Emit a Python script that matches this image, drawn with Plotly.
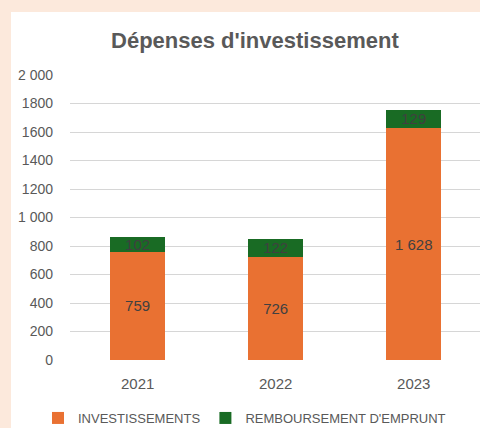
import plotly.graph_objects as go

years = ["2021", "2022", "2023"]
investissements = [759, 726, 1628]
remboursement = [102, 122, 129]
y_tickvals = [0, 200, 400, 600, 800, 1000, 1200, 1400, 1600, 1800, 2000]
y_ticktext = ["0", "200", "400", "600", "800", "1 000", "1200", "1400", "1600", "1800", "2 000"]

ORANGE = "#E97132"
GREEN = "#196B24"
GRAY = "#595959"
FONT = "Liberation Sans, Arial, sans-serif"


def fmt(v):
    return f"{v:,}".replace(",", " ")


fig = go.Figure()
for vals, name, color in [(investissements, "INVESTISSEMENTS", ORANGE),
                          (remboursement, "REMBOURSEMENT D'EMPRUNT", GREEN)]:
    fig.add_trace(go.Bar(
        x=years, y=vals, name=name,
        marker=dict(color=color, line=dict(width=0)),
        text=[fmt(v) for v in vals], textposition="inside",
        insidetextanchor="middle", constraintext="none",
        textfont=dict(color="#404040", size=15, family=FONT),
        hoverinfo="skip",
    ))

fig.update_layout(
    width=480, height=428,
    barmode="stack", bargap=0.6,
    paper_bgcolor="#FCE9DC", plot_bgcolor="rgba(0,0,0,0)",
    margin=dict(l=70, r=0, t=75, b=68, autoexpand=False),
    uniformtext=dict(mode="show", minsize=15),
    title=dict(text="<b>Dépenses d'investissement</b>", x=0.531, xanchor="center",
               y=1 - 40 / 428, yanchor="middle",
               font=dict(size=22, color=GRAY, family=FONT)),
    font=dict(family=FONT, color=GRAY),
    xaxis=dict(range=[-0.49, 2.48], showgrid=False, zeroline=False, showline=False,
               ticks="", tickfont=dict(size=15, color=GRAY), ticklabelstandoff=13,
               fixedrange=True),
    yaxis=dict(range=[0, 2000], tickvals=y_tickvals, ticktext=y_ticktext,
               showgrid=True, gridcolor="#D6D6D6", gridwidth=1.4,
               zeroline=False, showline=False, ticks="",
               tickfont=dict(size=14, color=GRAY), ticklabelstandoff=16,
               fixedrange=True),
    legend=dict(orientation="h", x=(38 - 70) / 410, xanchor="left",
                y=(360 - 418) / 285, yanchor="middle",
                font=dict(size=13, color=GRAY, family=FONT),
                bgcolor="rgba(0,0,0,0)", traceorder="normal"),
    shapes=[dict(type="rect", xref="paper", yref="paper",
                 x0=(11 - 70) / 410, x1=1.01, y0=(360 - 440) / 285, y1=(360 - 12) / 285,
                 fillcolor="white", line=dict(width=0), layer="below")],
)

fig.write_html("out.html", config={"displayModeBar": False},
               post_script="document.body.style.margin='0';document.body.style.overflow='hidden';")
